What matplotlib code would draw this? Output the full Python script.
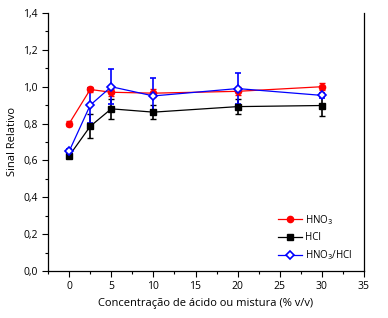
import matplotlib
matplotlib.use("Agg")
import matplotlib.pyplot as plt
from matplotlib.ticker import MultipleLocator, FuncFormatter
from matplotlib.lines import Line2D

plt.rcParams['font.family'] = ['Open Sans', 'DejaVu Sans']

x = [0, 2.5, 5, 10, 20, 30]
hno3 = [0.80, 0.985, 0.97, 0.965, 0.975, 1.0]
hno3_err = [0.012, 0.015, 0.02, 0.02, 0.022, 0.02]
hcl = [0.625, 0.785, 0.88, 0.862, 0.892, 0.898]
hcl_err = [0.01, 0.065, 0.055, 0.037, 0.04, 0.057]
mix = [0.65, 0.90, 1.00, 0.95, 0.99, 0.953]
mix_err = [0.012, 0.095, 0.095, 0.098, 0.085, 0.012]

fig = plt.figure(figsize=(3.88, 3.18), dpi=100)
ax = fig.add_axes([0.124, 0.148, 0.814, 0.811])

styles = [
    (hno3, hno3_err, dict(color='red', marker='o', mfc='red', mec='red'), 'HNO$_3$'),
    (hcl, hcl_err, dict(color='black', marker='s', mfc='black', mec='black'), 'HCl'),
    (mix, mix_err, dict(color='blue', marker='D', mfc='white', mec='blue', mew=1.2), 'HNO$_3$/HCl'),
]
handles = []
for y, e, st, lab in styles:
    ax.errorbar(x, y, yerr=e, ms=4.5, lw=0.9, capsize=2.5, elinewidth=1.2, **st)
    handles.append(Line2D([], [], ms=4.5, lw=0.9, **st))

ax.set_xlim(-2.5, 35)
ax.set_ylim(0, 1.4)
ax.xaxis.set_major_locator(MultipleLocator(5))
ax.xaxis.set_minor_locator(MultipleLocator(2.5))
ax.yaxis.set_major_locator(MultipleLocator(0.2))
ax.yaxis.set_minor_locator(MultipleLocator(0.1))
ax.yaxis.set_major_formatter(FuncFormatter(lambda v, p: f"{v:.1f}".replace('.', ',')))
ax.tick_params(which='major', direction='out', length=4, width=0.8, labelsize=7.5)
ax.tick_params(which='minor', direction='out', length=2, width=0.8)
ax.spines['top'].set_visible(False)
for s in ['left', 'bottom', 'right']:
    ax.spines[s].set_linewidth(0.9)

ax.set_xlabel('Concentração de ácido ou mistura (% v/v)', fontsize=8)
ax.set_ylabel('Sinal Relativo', fontsize=8)

ax.legend(handles, [s[3] for s in styles], loc='lower right', frameon=False, fontsize=7,
          handlelength=2.4, handletextpad=0.3, bbox_to_anchor=(0.99, 0.0),
          labelspacing=0.55)

fig.savefig('out.png', dpi=100)
